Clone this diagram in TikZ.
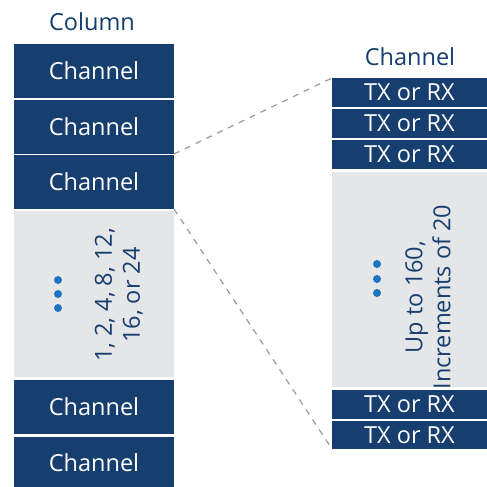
\documentclass[tikz,border=0pt]{standalone}
\usepackage{fontspec}
\setmainfont{Open Sans}
\definecolor{dblue}{HTML}{163E6E}
\definecolor{lgray}{HTML}{E5E6E8}
\definecolor{dotblue}{HTML}{1F74C2}
\definecolor{dashgray}{HTML}{9A9A9A}
\begin{document}
\begin{tikzpicture}[x=1pt,y=-1pt,
  every node/.style={inner sep=0pt, outer sep=0pt, font=\fontsize{23.5}{28}\selectfont},
  chan/.style={rectangle, fill=dblue, text=white, minimum width=160pt},
  txrx/.style={rectangle, fill=dblue, text=white, minimum width=155pt, minimum height=29pt},
  graybox/.style={rectangle, fill=lgray},
  lbl/.style={text=dblue},
  rot/.style={text=dblue, rotate=90, align=center},
  dot/.style={circle, fill=dotblue, minimum size=8pt},
  link/.style={draw=dashgray, dashed, line width=1.2pt, dash pattern=on 6pt off 6pt}
]
\useasboundingbox[fill=white] (0,0) rectangle (487,487);

\node[lbl] (collbl) at (92,22) {Column};
\node[chan, minimum height=54pt] (c1) at (94,71) {Channel};
\node[chan, minimum height=54pt] (c2) at (94,127) {Channel};
\node[chan, minimum height=54pt] (c3) at (94,182) {Channel};
\node[graybox, minimum width=160pt, minimum height=166pt] (g1) at (94,294) {};
\node[chan, minimum height=54pt] (c4) at (94,407) {Channel};
\node[chan, minimum height=52pt] (c5) at (94,463) {Channel};

\node[dot] (d1) at (58,280) {};
\node[dot] (d2) at (58,294) {};
\node[dot] (d3) at (58,308) {};
\node[rot] (gt1) at (119,295) {1, 2, 4, 8, 12,\\16, or 24};

\node[lbl] (chlbl) at (410,57) {Channel};
\node[txrx] (t1) at (409.5,92.5) {TX or RX};
\node[txrx] (t2) at (409.5,123.5) {TX or RX};
\node[txrx] (t3) at (409.5,154.5) {TX or RX};
\node[graybox, minimum width=155pt, minimum height=215pt] (g2) at (409.5,279.5) {};
\node[txrx] (t4) at (409.5,404.5) {TX or RX};
\node[txrx, minimum height=28pt] (t5) at (409.5,435) {TX or RX};

\node[dot] (e1) at (377,264) {};
\node[dot] (e2) at (377,279) {};
\node[dot] (e3) at (377,293) {};
\node[rot] (gt2) at (428,297) {Up to 160,\\Increments of 20};

\draw[link] (c2.south east) -- (t1.north west);
\draw[link] (c3.south east) -- (t5.south west);
\end{tikzpicture}
\end{document}
